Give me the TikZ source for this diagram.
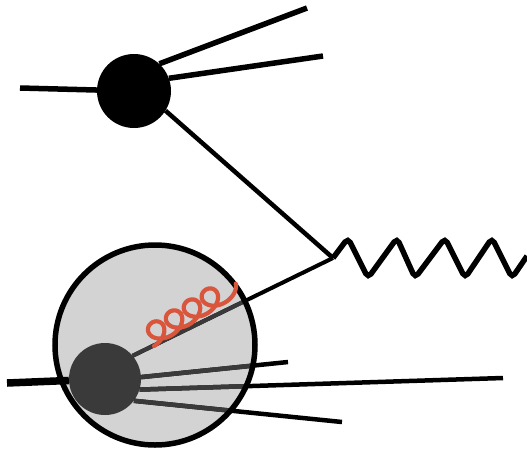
\documentclass[tikz,border=0pt]{standalone}
\definecolor{gluon}{HTML}{D9553B}
\definecolor{blobfill}{HTML}{D3D3D3}
\definecolor{core}{HTML}{3A3A3A}
\begin{document}
\begin{tikzpicture}[x=1pt,y=-1pt,
  blob/.style={circle, inner sep=0pt, fill=blobfill, minimum size=200pt},
  corebox/.style={circle, inner sep=0pt, fill=core, minimum size=72pt},
  hard/.style={circle, inner sep=0pt, fill=black, minimum size=74pt},
  thick line/.style={line width=5.5pt},
  track/.style={line width=4.5pt},
  photon/.style={line width=5.5pt, rounded corners=5pt},
  gluonline/.style={gluon, line width=4.2pt, line join=round, line cap=round}]
\useasboundingbox (0,0) rectangle (527,448);
% nodes
\node[blob] (G) at (155,345) {};
\node[corebox] (D) at (105,379) {};
\node[hard] (A) at (134,91) {};
% free ends
\coordinate (a1) at (20,88);
\coordinate (a2) at (307,8);
\coordinate (a3) at (323,56);
\coordinate (V) at (333,258);
\coordinate (d0) at (7,383);
\coordinate (d1) at (288,362);
\coordinate (d2) at (503,378);
\coordinate (d3) at (342,422);
\coordinate (w) at (527,256);
\coordinate (g1) at (154,346);
% top vertex lines
\draw[thick line] (a1) -- (A);
\draw[thick line] (A.47) -- (a2);
\draw[thick line] (A.20) -- (a3);
\draw[track] (A.-32) -- (V);
% lower blob lines
\draw[line width=7.5pt] (d0) -- (D);
\draw[track] (D.3) -- (d1);
\draw[track] (D.-17) -- (d2);
\draw[track] (D.-37) -- (d3);
\draw[line width=4pt] (D.40) -- (V);
\begin{scope}
  \clip (G.center) circle[radius=100pt];
  \draw[track, core] (D.3) -- (d1);
  \draw[track, core] (D.-17) -- (d2);
  \draw[track, core] (D.-37) -- (d3);
  \draw[line width=4pt, core] (D.40) -- (V);
\end{scope}
\draw[line width=5.5pt] (G.center) circle[radius=100pt];
% gluon
\begin{scope}[shift={(g1)}, rotate=31.5]
  \draw[gluonline] plot[domain=0:26.7, samples=240, smooth, variable=\t]
    ({21*\t/6.2832 + 13*sin(\t r)}, {-10.5*(1-cos(\t r))});
\end{scope}
% photon
\draw[photon] (V) -- (348,238) -- (368,278) -- (397,238) -- (415,278)
  -- (445,238) -- (465,278) -- (492,238) -- (512,278) -- (w);
\end{tikzpicture}
\end{document}
